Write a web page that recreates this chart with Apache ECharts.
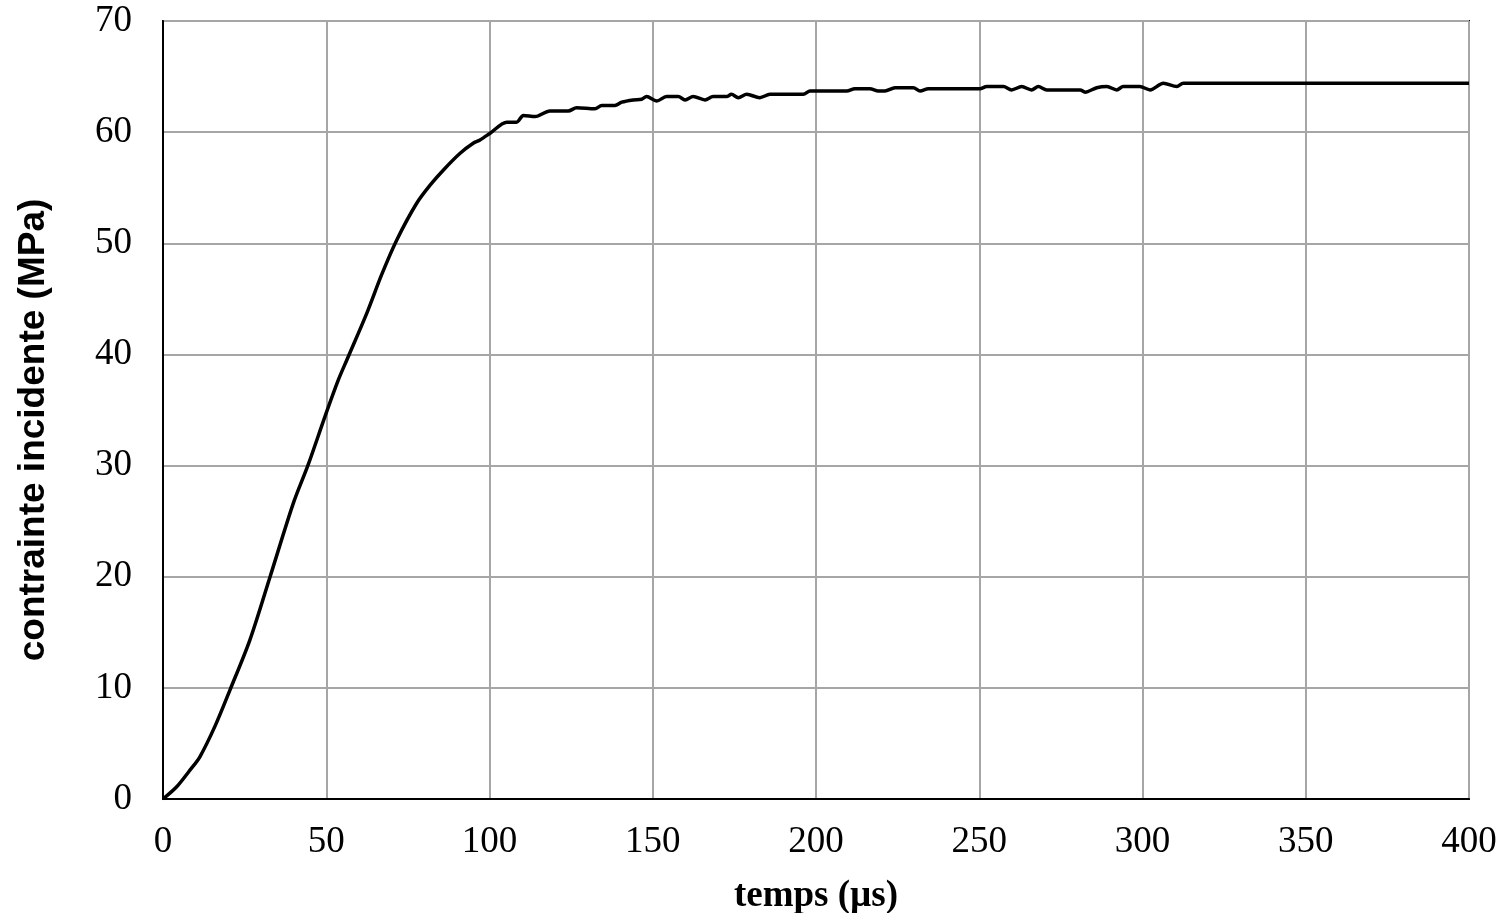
<!DOCTYPE html>
<html>
<head>
<meta charset="utf-8">
<script src="https://cdn.jsdelivr.net/npm/echarts@6/dist/echarts.min.js"></script>
<style>html,body{margin:0;padding:0;background:#fff}#c{width:1506px;height:913px}</style>
</head>
<body>
<div id="c"></div>
<script>
const timeUs = [0,4.2,8,11.3,16,20.5,26.6,32.8,39.9,44.5,49.6,53.7,56.3,62.4,67,71.6,77.7,82,85.9,91,95,97.1,100.2,105.3,108.3,110.4,114,118.5,124.1,126.7,132.3,134.4,138.4,140.5,144,146.6,148.1,151.2,154.2,157.8,159.9,162.4,166,168.5,172.6,174.1,176.2,178.8,182.8,185.9,196.1,198.2,209.4,211.9,216.5,219.1,221.1,224.2,229.8,231.9,234.4,250.2,252.3,257.4,259.9,263,266,268.1,270.7,280.9,282.4,286,289.1,292.1,294.1,299.2,302.3,306.4,310.5,312.5,400];
const stressMPa = [0,1.1,2.5,3.8,6.6,9.8,14.3,20.0,26.6,30.1,34.4,37.7,39.5,43.7,47.2,50.3,53.6,55.3,56.6,58.1,59.0,59.3,59.9,60.9,60.9,61.5,61.4,61.9,61.9,62.2,62.1,62.4,62.4,62.7,62.9,62.96,63.2,62.8,63.2,63.2,62.9,63.2,62.9,63.2,63.2,63.4,63.1,63.4,63.1,63.4,63.4,63.7,63.7,63.9,63.9,63.7,63.7,64.0,64.0,63.7,63.9,63.9,64.1,64.1,63.8,64.1,63.8,64.1,63.8,63.8,63.6,64.0,64.1,63.8,64.1,64.1,63.8,64.4,64.1,64.4,64.4];
const xTicks = [0,50,100,150,200,250,300,350,400];
const yTicks = [0,10,20,30,40,50,60,70];

const chart = echarts.init(document.getElementById('c'));
chart.setOption({
  animation: false,
  grid: {left: 163, top: 21, right: 37, bottom: 114, outerBoundsMode: 'none', containLabel: false, show: true, borderColor: '#000', borderWidth: 2, backgroundColor: 'transparent'},
  xAxis: {
    type: 'value', min: xTicks[0], max: xTicks[xTicks.length-1], interval: 50,
    name: 'temps (µs)', nameLocation: 'middle', nameGap: 79,
    nameTextStyle: {fontFamily: 'Liberation Serif', fontWeight: 'bold', fontSize: 37, color: '#000'},
    axisLine: {show: true, lineStyle: {color: '#000', width: 2}},
    axisTick: {show: false},
    axisLabel: {fontFamily: 'Liberation Serif', fontSize: 37, color: '#000', margin: 25},
    splitLine: {show: true, lineStyle: {color: '#a6a6a6', width: 2}}
  },
  yAxis: {
    type: 'value', min: yTicks[0], max: yTicks[yTicks.length-1], interval: 10,
    name: 'contrainte incidente (MPa)', nameLocation: 'middle', nameGap: 111,
    nameTextStyle: {fontFamily: 'Liberation Sans', fontWeight: 'bold', fontSize: 37, color: '#000', padding: [0, 40, 0, 0]},
    axisLine: {show: true, lineStyle: {color: '#000', width: 2}},
    axisTick: {show: false},
    axisLabel: {fontFamily: 'Liberation Serif', fontSize: 37, color: '#000', margin: 31},
    splitLine: {show: true, lineStyle: {color: '#a6a6a6', width: 2}}
  },
  series: [{
    type: 'line',
    data: timeUs.map((t, i) => [t, stressMPa[i]]),
    showSymbol: false,
    smooth: 0.3,
    lineStyle: {color: '#000', width: 3.5}
  }]
});
</script>
</body>
</html>
